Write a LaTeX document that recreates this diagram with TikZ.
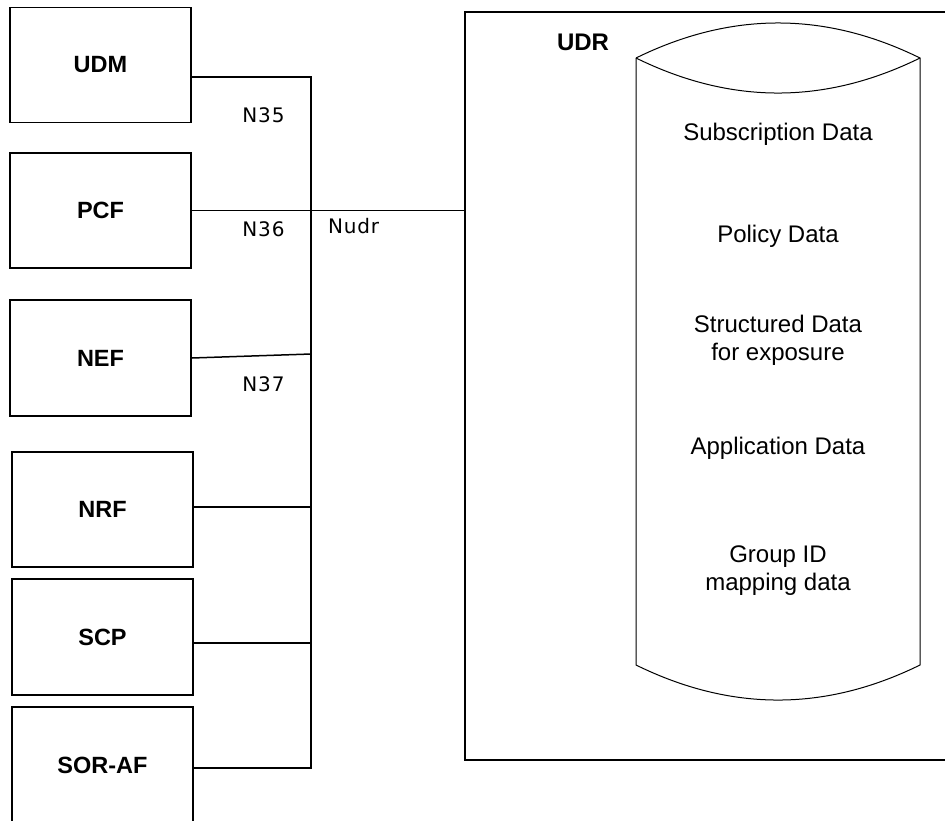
\documentclass[tikz,border=0pt]{standalone}
\usepackage{fontspec}
\setmainfont{Liberation Sans}
\newfontfamily\lblfont[LetterSpace=4]{DejaVu Sans}
\begin{document}
\begin{tikzpicture}[x=1pt,y=-1pt,
  nfbox/.style={draw, line width=1.5pt, minimum width=181pt, minimum height=115pt, inner sep=0pt, font=\fontsize{23.5}{28}\selectfont\bfseries},
  ifl/.style={font=\lblfont\fontsize{20}{24}\selectfont, inner sep=0pt, anchor=base},
  dtxt/.style={font=\fontsize{24}{28}\selectfont, align=center, inner sep=0pt},
  dline/.style={dtxt, anchor=base},
  conn/.style={line width=1.5pt}]
\clip (0,0) rectangle (945,820);
\fill[white] (0,0) rectangle (945,820);
% left boxes
\node[nfbox] (udm) at (100.5,65) {UDM};
\node[nfbox] (pcf) at (100.5,210.5) {PCF};
\node[nfbox, minimum height=116pt] (nef) at (100.5,358) {NEF};
\node[nfbox] (nrf) at (102.5,509.5) {NRF};
\node[nfbox, minimum height=116pt] (scp) at (102.5,637) {SCP};
\node[nfbox, minimum height=116pt] (soraf) at (102.5,765) {SOR-AF};
% UDR box
\node[draw, line width=1.5pt, minimum width=500pt, minimum height=748pt, anchor=north west, inner sep=0pt] (udr) at (464,11) {};
\node[font=\fontsize{24}{28}\selectfont\bfseries, inner sep=0pt, anchor=base] (udrlbl) at (583,50) {UDR};
% bus
\coordinate (bt) at (311,77);
\coordinate (bb) at (311,768);
\draw[conn] (udm.east |- bt) -- (bt) -- (bb) -- (soraf.east |- bb);
\draw[conn] (pcf.east) -- (pcf.east -| udr.west);
\coordinate (nefj) at (311,354);
\draw[conn] (nef.east) -- (nefj);
\coordinate (nrfj) at (311,507);
\draw[conn] (nrf.east |- nrfj) -- (nrfj);
\coordinate (scpj) at (311,643);
\draw[conn] (scp.east |- scpj) -- (scpj);
% labels
\node[ifl] (n35) at (263.5,122) {N35};
\node[ifl] (n36) at (263.5,236) {N36};
\node[ifl] (n37) at (263.5,391) {N37};
\node[ifl, anchor=base west] (nudr) at (328,233) {Nudr};
% cylinder
\draw[line width=1pt] (636,58) -- (636,665) .. controls (731,711.7) and (825,711.7) .. (920,665) -- (920,58)
  .. controls (825,11.3) and (731,11.3) .. (636,58);
\draw[line width=1pt] (636,58) .. controls (731,104.7) and (825,104.7) .. (920,58);
\node[dline] (sub) at (778,140) {Subscription Data};
\node[dline] (pol) at (778,242) {Policy Data};
\node[dtxt] (str) at (778,340.75) {Structured Data\\for exposure};
\node[dline] (app) at (778,454) {Application Data};
\node[dtxt] (grp) at (778,570.75) {Group ID\\mapping data};
\end{tikzpicture}
\end{document}
